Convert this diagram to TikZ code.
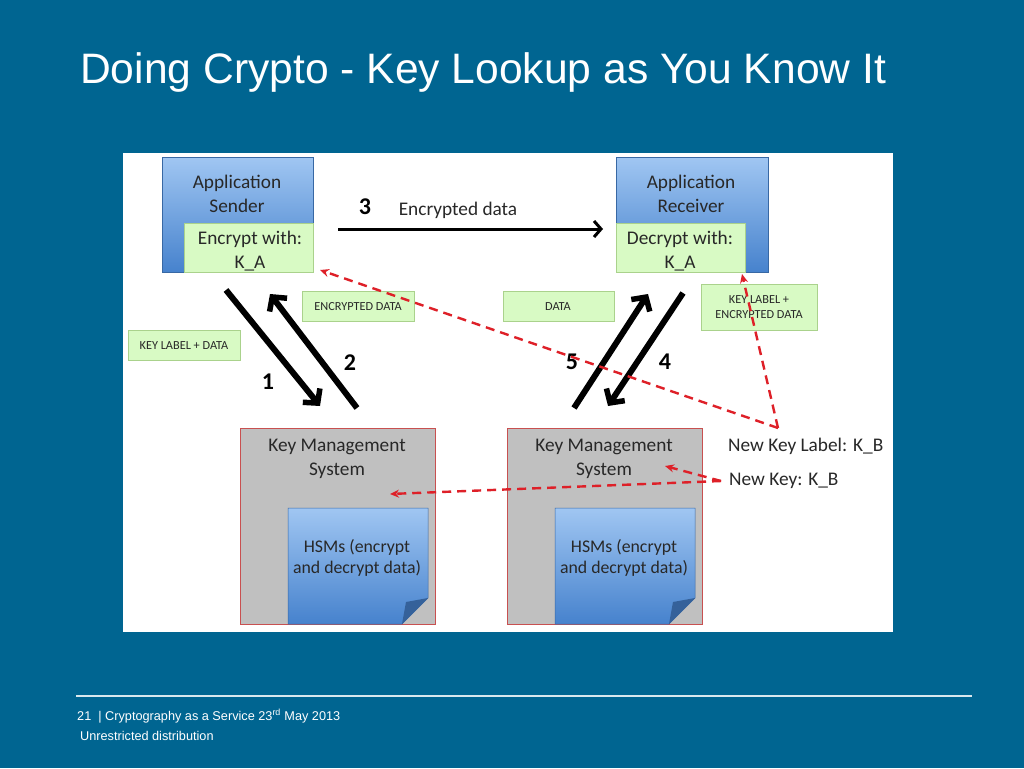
\documentclass[tikz,border=0pt]{standalone}
\usepackage{fontspec}
\setmainfont{Carlito}
\newfontfamily\arialf{Liberation Sans}
\usetikzlibrary{arrows.meta}
\definecolor{bg}{RGB}{0,101,145}
\definecolor{boxtop}{RGB}{160,198,242}
\definecolor{boxbot}{RGB}{70,130,205}
\definecolor{greenfill}{RGB}{216,250,196}
\definecolor{greenedge}{RGB}{170,210,140}
\definecolor{kmsgray}{RGB}{192,192,192}
\definecolor{kmsedge}{RGB}{200,80,80}
\definecolor{reddash}{RGB}{222,32,40}
\definecolor{txt}{RGB}{40,40,40}
\tikzset{
  appbox/.style={draw=boxbot!80!black, line width=0.6pt, top color=boxtop, bottom color=boxbot, anchor=north west, inner sep=0pt},
  greenbox/.style={draw=greenedge, line width=0.6pt, fill=greenfill, anchor=north west, inner sep=0pt, text=txt},
  kmsbox/.style={draw=kmsedge, line width=0.8pt, fill=kmsgray, anchor=north west, inner sep=0pt},
  bigtxt/.style={font=\fontsize{19.3}{23.5}\selectfont, text=txt, align=center},
  smalltxt/.style={font=\fontsize{12.3}{14.5}\selectfont, align=center},
  numtxt/.style={font=\fontsize{24}{28}\selectfont\bfseries, text=black},
  blackarrow/.style={line width=6pt, -{Straight Barb[length=10pt,width=22pt,line width=5.5pt]}},
  redarrow/.style={draw=reddash, line width=2.4pt, dash pattern=on 9pt off 6pt, -{Stealth[length=9pt,width=8pt]}}
}
\begin{document}
\begin{tikzpicture}[x=1pt,y=-1pt]
\useasboundingbox (0,0) rectangle (1024,768);
\fill[bg] (0,0) rectangle (1024,768);
% title
\node[anchor=west, text=white, font=\arialf\fontsize{42.6}{48}\selectfont, inner sep=0pt] (title) at (80,72) {Doing Crypto - Key Lookup as You Know It};
% white panel
\fill[white] (123,153) rectangle (893,632);
% sender
\node[appbox, minimum width=151pt, minimum height=115pt] (sender) at (162,157) {};
\node[bigtxt] (sendert) at (237,194) {Application\\Sender};
\node[greenbox, minimum width=129pt, minimum height=49pt] (enc) at (184,223) {};
\node[bigtxt] (enct) at (250,251) {Encrypt with:\\K\_A};
% receiver
\node[appbox, minimum width=152pt, minimum height=115pt] (receiver) at (616,157) {};
\node[bigtxt] (receivert) at (691,194) {Application\\Receiver};
\node[greenbox, minimum width=129pt, minimum height=49pt] (dec) at (616,223) {};
\node[bigtxt] (dect) at (680,251) {Decrypt with:\\K\_A};
% arrow 3
\coordinate (a3s) at (338,229);
\coordinate (a3e) at (603,229);
\draw[line width=3pt, -{Straight Barb[length=7pt,width=16pt,line width=3pt]}] (a3s) -- (a3e);
\node[numtxt] (n3) at (365,207) {3};
\node[bigtxt] (enctxt) at (458,210) {Encrypted data};
% green labels
\node[greenbox, minimum width=112pt, minimum height=30pt] (gl1) at (302,291) {};
\node[smalltxt, text=txt] (gl1t) at (358,307) {ENCRYPTED DATA};
\node[greenbox, minimum width=112pt, minimum height=30pt] (gl2) at (128,330) {};
\node[smalltxt, text=txt] (gl2t) at (184,346) {KEY LABEL + DATA};
\node[greenbox, minimum width=111pt, minimum height=30pt] (gl3) at (503,291) {};
\node[smalltxt, text=txt] (gl3t) at (558,307) {DATA};
\node[greenbox, minimum width=116pt, minimum height=46pt] (gl4) at (701,284) {};
\node[smalltxt, text=txt] (gl4t) at (759,307) {KEY LABEL +\\ENCRYPTED DATA};
% KMS boxes
\node[kmsbox, minimum width=195pt, minimum height=196pt] (kms1) at (240,428) {};
\node[bigtxt] (kms1t) at (337,459) {Key Management\\System};
\node[kmsbox, minimum width=195pt, minimum height=196pt] (kms2) at (507,428) {};
\node[bigtxt] (kms2t) at (604,459) {Key Management\\System};
% HSMs
\foreach \hx/\nm in {288/hsm1, 555/hsm2}{
  \shade[top color=boxtop, bottom color=boxbot, draw=boxbot!80!black, line width=0.5pt]
    (\hx,508) -- ++(140,0) -- ++(0,90) -- ++(-26,26) -- ++(-114,0) -- cycle;
  \fill[boxbot!75!black] (\hx+140,598) -- (\hx+114,624) -- (\hx+118,602) -- cycle;
  \node[bigtxt, font=\fontsize{17.8}{21.5}\selectfont] (\nm) at (\hx+69,558) {HSMs (encrypt\\and decrypt data)};
}
% black diagonal arrows
\coordinate (a1s) at (226,290);
\coordinate (a1e) at (320,406);
\coordinate (a2s) at (357,408);
\coordinate (a2e) at (270,294);
\coordinate (a5s) at (574,408);
\coordinate (a5e) at (648,294);
\coordinate (a4s) at (683,293);
\coordinate (a4e) at (608,406);
\draw[blackarrow] (a1s) -- (a1e);
\draw[blackarrow] (a2s) -- (a2e);
\draw[blackarrow] (a5s) -- (a5e);
\draw[blackarrow] (a4s) -- (a4e);
\node[numtxt] (n1) at (268,382) {1};
\node[numtxt] (n2) at (350,363) {2};
\node[numtxt] (n5) at (572,362) {5};
\node[numtxt] (n4) at (665,362) {4};
% new key labels
\node[anchor=west, bigtxt, inner sep=0pt] (nkl) at (728,446) {New Key Label: K\_B};
\node[anchor=west, bigtxt, inner sep=0pt] (nk) at (729,481) {New Key: K\_B};
\coordinate (nklsrc) at (778,428);
\coordinate (nksrc) at (721,481);
\coordinate (t1) at (320,270);
\coordinate (t2) at (742,274);
\coordinate (t3) at (390,494);
\coordinate (t4) at (665,466);
\draw[redarrow] (nklsrc) -- (t1);
\draw[redarrow] (nklsrc) -- (t2);
\draw[redarrow] (nksrc) -- (t3);
\draw[redarrow] (nksrc) -- (t4);
% footer
\draw[white!85!bg, line width=1.6pt] (76,696) coordinate (fl) -- (972,696) coordinate (fr);
\node[anchor=west, text=white, font=\arialf\fontsize{12.7}{15}\selectfont, inner sep=0pt] (foot1) at (77,716) {21 ~| Cryptography as a Service 23\textsuperscript{rd} May 2013};
\node[anchor=west, text=white, font=\arialf\fontsize{12.7}{15}\selectfont, inner sep=0pt] (foot2) at (80,736) {Unrestricted distribution};
\end{tikzpicture}
\end{document}
